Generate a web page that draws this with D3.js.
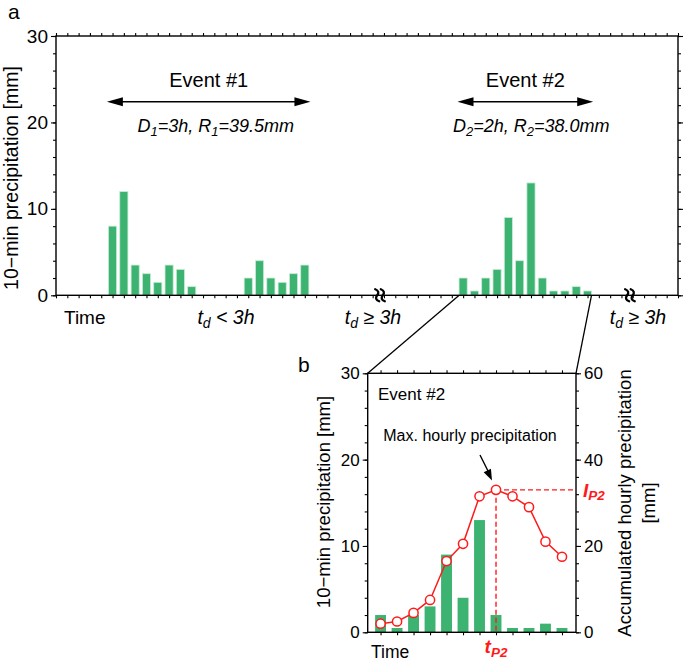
<!DOCTYPE html>
<html><head><meta charset="utf-8">
<script src="https://cdn.jsdelivr.net/npm/d3@7"></script>
<style>
body{margin:0;background:#fff}
svg{display:block}
text{font-family:"Liberation Sans",Arial,Helvetica,sans-serif;fill:#000}
</style>
</head><body>
<svg id="chart" width="685" height="661"></svg>
<script>
// ---------- data ----------
const slotsA   = [5,6,7,8,9,10,11,12,17,18,19,20,21,22,36,37,38,39,40,41,42,43,44,45,46,47];
const precipA  = [8,12,3.5,2.5,1.5,3.5,3,1,2,4,2,1.5,2.5,3.5,2,0.5,2,3,9,4,13,2,0.5,0.5,1,0.5];
const slotsB   = [0,1,2,3,4,5,6,7,8,9,10,11];
const precipB  = [2,0.5,2,3,9,4,13,2,0.5,0.5,1,0.5];
const hourlyB  = [2,2.5,4.5,7.5,16.5,20.5,31.5,33,31.5,29,21,17.5];
const peakIndex = 7;
const breakSlots = [28.65,50.75];
const eventSpans = [[4.5,22.5],[35.5,47.5]];
const eventNames = ["Event #1","Event #2"];
const eventD = ["3h","2h"];
const eventR = ["39.5mm","38.0mm"];
const yTicks  = [0,10,20,30];
const y2Ticks = [0,20,40,60];
const zoomRange = [36,47];

const GREEN = "#3cb371", RED = "#ff1a1a";
const svg = d3.select("#chart");

// ---------- panel a ----------
const A = {l:56, r:678, t:36, b:295.3};
const xa = d3.scaleLinear().domain([0,55]).range([A.l, A.r]);
const ya = d3.scaleLinear().domain([0,30]).range([A.b, A.t]);

const ga = svg.append("g");
function axisG(g, gen, tx, ty){
  const s = g.append("g").attr("transform",`translate(${tx},${ty})`).call(gen);
  s.select(".domain").remove();
  s.selectAll(".tick line").attr("stroke","#000").attr("stroke-width",1.1);
  s.selectAll(".tick text").attr("fill","#000").style("font-family",'"Liberation Sans",Arial,sans-serif');
  return s;
}
// bars
ga.selectAll("rect.bar").data(slotsA).join("rect")
  .attr("x", d=>xa(d-0.36)).attr("width", xa(0.72)-xa(0))
  .attr("y", (d,i)=>ya(precipA[i])).attr("height",(d,i)=>ya(0)-ya(precipA[i]))
  .attr("fill",GREEN).attr("stroke","#c9ecd6").attr("stroke-width",0.8);

axisG(ga, d3.axisBottom(xa).tickValues(d3.range(0,56)).tickSize(3).tickSizeOuter(0).tickFormat(""), 0, A.b);
axisG(ga, d3.axisTop(xa).tickValues(d3.range(0,56)).tickSize(3).tickSizeOuter(0).tickFormat(""), 0, A.t);
axisG(ga, d3.axisLeft(ya).tickValues(d3.range(0,31,2)).tickSize(3).tickSizeOuter(0).tickFormat(""), A.l, 0);
axisG(ga, d3.axisRight(ya).tickValues(d3.range(0,31,2)).tickSize(3).tickSizeOuter(0).tickFormat(""), A.r, 0);
axisG(ga, d3.axisRight(ya).tickValues(yTicks).tickSize(5).tickSizeOuter(0).tickFormat(""), A.r, 0);
const la = axisG(ga, d3.axisLeft(ya).tickValues(yTicks).tickSize(5).tickSizeOuter(0).tickPadding(3), A.l, 0);
la.selectAll(".tick text").attr("font-size",19);

ga.append("rect").attr("x",A.l).attr("y",A.t).attr("width",A.r-A.l).attr("height",A.b-A.t)
  .attr("fill","none").attr("stroke","#000").attr("stroke-width",1.4);

// break marks
breakSlots.forEach(s=>{
  const x = xa(s), y = A.b;
  [-2.8,2.8].forEach(o=>{
    const cx = x+o;
    ga.append("path")
      .attr("d",`M${cx-2},${y-6} Q${cx+3},${y-4} ${cx},${y} Q${cx-3},${y+4} ${cx+2},${y+6}`)
      .attr("fill","none").attr("stroke","#000").attr("stroke-width",2.3).attr("stroke-linecap","round");
  });
});

// arrows + event labels
function dblArrow(g,x1,x2,y){
  g.append("line").attr("x1",x1+12).attr("x2",x2-12).attr("y1",y).attr("y2",y).attr("stroke","#000").attr("stroke-width",1.6);
  g.append("path").attr("d",`M${x1},${y} L${x1+16},${y-4.5} L${x1+16},${y+4.5}Z`).attr("fill","#000");
  g.append("path").attr("d",`M${x2},${y} L${x2-16},${y-4.5} L${x2-16},${y+4.5}Z`).attr("fill","#000");
}
const formulaShift = [7,6];
eventSpans.forEach((sp,i)=>{
  const x1 = xa(sp[0]), x2 = xa(sp[1]), cx = (x1+x2)/2;
  dblArrow(ga,x1,x2,ya(22.4));
  ga.append("text").attr("x",cx).attr("y",ya(24.1)).attr("text-anchor","middle").attr("font-size",20).text(eventNames[i]);
  const t = ga.append("text").attr("x",cx+formulaShift[i]).attr("y",ya(18.9)).attr("text-anchor","middle")
    .attr("font-size",18).attr("font-style","italic");
  t.append("tspan").text("D");
  t.append("tspan").attr("dy",4).attr("font-size",13).text(i+1);
  t.append("tspan").attr("dy",-4).text("="+eventD[i]+", R");
  t.append("tspan").attr("dy",4).attr("font-size",13).text(i+1);
  t.append("tspan").attr("dy",-4).text("="+eventR[i]);
});

// bottom labels
ga.append("text").attr("x",64).attr("y",323.5).attr("font-size",19).text("Time");
function tdLabel(cx,op){
  const t = ga.append("text").attr("x",cx).attr("y",323.5).attr("text-anchor","middle").attr("font-size",19.5).attr("font-style","italic");
  t.append("tspan").text("t");
  t.append("tspan").attr("dy",4).attr("font-size",14).text("d");
  t.append("tspan").attr("dy",-4).text(" "+op+" 3h");
}
tdLabel(226,"<");
tdLabel(373,"≥");
tdLabel(638,"≥");

// y label
ga.append("text").attr("transform","translate(17.5,178) rotate(-90)").attr("text-anchor","middle")
  .attr("font-size",19.5).text("10−min precipitation [mm]");
ga.append("text").attr("x",8).attr("y",19).attr("font-size",21).text("a");

// ---------- panel b ----------
const B = {l:367.7, r:576, t:373.3, b:632.3};
const xb = d3.scaleLinear().domain([-0.78,11.85]).range([B.l,B.r]);
const yb = d3.scaleLinear().domain([0,30]).range([B.b,B.t]);
const y2b = d3.scaleLinear().domain([0,60]).range([B.b,B.t]);
const gb = svg.append("g");

// zoom connector lines
gb.append("line").attr("x1",xa(zoomRange[0]-0.35)).attr("y1",A.b).attr("x2",B.l).attr("y2",B.t).attr("stroke","#000").attr("stroke-width",1.3);
gb.append("line").attr("x1",xa(zoomRange[1]+0.35)).attr("y1",A.b).attr("x2",B.r).attr("y2",B.t).attr("stroke","#000").attr("stroke-width",1.3);

gb.selectAll("rect.bar").data(slotsB).join("rect")
  .attr("x", d=>xb(d-0.33)).attr("width", xb(0.66)-xb(0))
  .attr("y", (d,i)=>yb(precipB[i])).attr("height",(d,i)=>yb(0)-yb(precipB[i]))
  .attr("fill",GREEN);

axisG(gb, d3.axisBottom(xb).tickValues(slotsB).tickSize(3).tickSizeOuter(0).tickFormat(""), 0, B.b);
axisG(gb, d3.axisTop(xb).tickValues(slotsB).tickSize(3).tickSizeOuter(0).tickFormat(""), 0, B.t);
axisG(gb, d3.axisLeft(yb).tickValues(d3.range(0,31,2)).tickSize(3).tickSizeOuter(0).tickFormat(""), B.l, 0);
const lb = axisG(gb, d3.axisLeft(yb).tickValues(yTicks).tickSize(5).tickSizeOuter(0).tickPadding(3), B.l, 0);
lb.selectAll(".tick text").attr("font-size",17);
axisG(gb, d3.axisRight(y2b).tickValues(d3.range(0,61,4)).tickSize(3).tickSizeOuter(0).tickFormat(""), B.r, 0);
const rb = axisG(gb, d3.axisRight(y2b).tickValues(y2Ticks).tickSize(5).tickSizeOuter(0).tickPadding(3), B.r, 0);
rb.selectAll(".tick text").attr("font-size",17);

gb.append("rect").attr("x",B.l).attr("y",B.t).attr("width",B.r-B.l).attr("height",B.b-B.t)
  .attr("fill","none").attr("stroke","#000").attr("stroke-width",1.4);

// dashed guides
const px = xb(peakIndex), py = y2b(hourlyB[peakIndex]);
gb.append("line").attr("x1",px).attr("x2",px).attr("y1",py).attr("y2",B.b).attr("stroke",RED).attr("stroke-width",1.4).attr("stroke-dasharray","5,3");
gb.append("line").attr("x1",px).attr("x2",B.r).attr("y1",py).attr("y2",py).attr("stroke",RED).attr("stroke-width",1.4).attr("stroke-dasharray","5,3");

// red line + circles
gb.append("path").datum(hourlyB).attr("d", d3.line().x((d,i)=>xb(slotsB[i])).y(d=>y2b(d)))
  .attr("fill","none").attr("stroke",RED).attr("stroke-width",1.5);
gb.selectAll("circle").data(hourlyB).join("circle")
  .attr("cx",(d,i)=>xb(slotsB[i])).attr("cy",d=>y2b(d)).attr("r",4.6)
  .attr("fill","#fff").attr("stroke",RED).attr("stroke-width",1.5);

// labels
gb.append("text").attr("x",378).attr("y",399.5).attr("font-size",17).text("Event #2");
gb.append("text").attr("x",470).attr("y",441).attr("text-anchor","middle").attr("font-size",16).text("Max. hourly precipitation");
gb.append("line").attr("x1",480).attr("y1",455).attr("x2",489).attr("y2",473).attr("stroke","#000").attr("stroke-width",1.4);
gb.append("path").attr("d",(()=>{
  const tip=[492,480.5], ang=Math.atan2(480.5-455,492-480), L=11, W=4;
  const bx=tip[0]-L*Math.cos(ang), by=tip[1]-L*Math.sin(ang);
  const nx=-Math.sin(ang)*W, ny=Math.cos(ang)*W;
  return `M${tip[0]},${tip[1]} L${bx+nx},${by+ny} L${bx-nx},${by-ny}Z`;
})()).attr("fill","#000");

const ip = gb.append("text").attr("x",583).attr("y",497).attr("font-size",19).attr("font-weight","bold").attr("font-style","italic").style("fill",RED);
ip.append("tspan").text("I");
ip.append("tspan").attr("dy",3).attr("font-size",13.5).text("P2");
const tp = gb.append("text").attr("x",px).attr("y",653).attr("text-anchor","middle").attr("font-size",19).attr("font-weight","bold").attr("font-style","italic").style("fill",RED);
tp.append("tspan").text("t");
tp.append("tspan").attr("dy",4).attr("font-size",13.5).text("P2");

gb.append("text").attr("x",371).attr("y",658).attr("font-size",17.5).text("Time");
gb.append("text").attr("transform","translate(330,502) rotate(-90)").attr("text-anchor","middle").attr("font-size",18.5).text("10−min precipitation [mm]");
gb.append("text").attr("transform","translate(631,503) rotate(-90)").attr("text-anchor","middle").attr("font-size",18.5).text("Accumulated hourly precipitation");
gb.append("text").attr("transform","translate(655,503) rotate(-90)").attr("text-anchor","middle").attr("font-size",18.5).text("[mm]");
gb.append("text").attr("x",298).attr("y",372).attr("font-size",21).text("b");
</script>
</body></html>
